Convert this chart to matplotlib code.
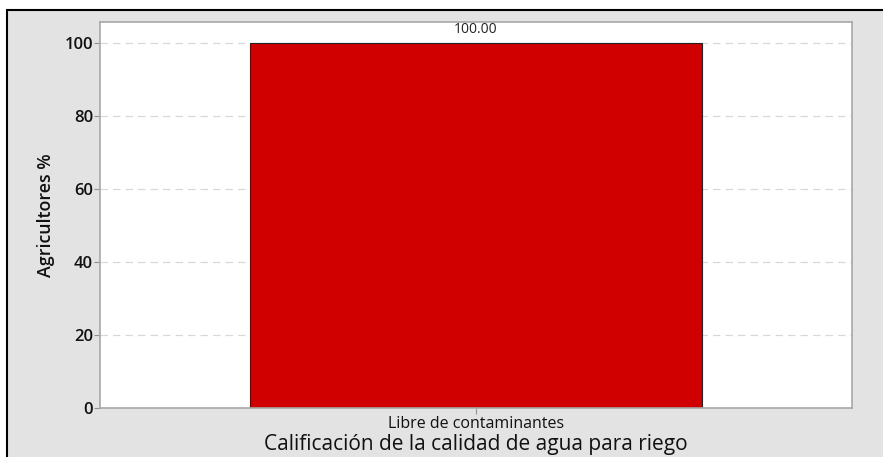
import matplotlib
matplotlib.use("Agg")
import matplotlib.pyplot as plt
from matplotlib.patches import Rectangle

categories = ["Libre de contaminantes"]
values = [100.0]
yticks = [0, 20, 40, 60, 80, 100]

plt.rcParams['font.family'] = ['Open Sans', 'DejaVu Sans']

W, H = 883, 457
fig = plt.figure(figsize=(W/100, H/100), dpi=100)
fig.patch.set_facecolor('white')
# gray panel with black border (left/top)
top = 1 - 10.5/H
fig.patches.append(Rectangle((7.5/W, -0.2), 1.2, top + 0.2, transform=fig.transFigure,
                             facecolor='#e3e3e3', edgecolor='black', linewidth=1.5, zorder=-10))

ax = fig.add_axes([100/W, 1 - 408/H, 752/W, 386/H])
ax.set_zorder(5)
ax.set_facecolor('white')
x = list(range(len(categories)))
bars = ax.bar(x, values, width=0.6, color='#d00000', edgecolor='#222222', linewidth=0.8, zorder=2)
for xi, v in zip(x, values):
    ax.text(xi, v + 1.6, f"{v:.2f}", ha='center', va='bottom', fontsize=10, color='#222222')

ax.set_xlim(-0.5, 0.5)
ax.set_ylim(0, 105.8)
ax.set_yticks(yticks)
ax.set_yticklabels([str(t) for t in yticks], fontsize=12, fontweight='semibold')
ax.set_xticks(x)
ax.set_xticklabels(categories, fontsize=11.5)
ax.yaxis.grid(True, linestyle=(0, (6, 4)), color='#d8d8d8', linewidth=0.9, zorder=1)
ax.set_axisbelow(True)
for s in ax.spines.values():
    s.set_color('#a8a8a8')
    s.set_linewidth(1.2)
ax.tick_params(axis='both', colors='#909090', length=4, width=0.8, labelcolor='#111111')
ax.tick_params(axis='y', pad=1)
ax.tick_params(axis='x', pad=2)
ax.set_ylabel("Agricultores %", fontsize=12.8, fontweight='semibold', color='#111111', labelpad=7)
ax.set_xlabel("Calificación de la calidad de agua para riego", fontsize=15, color='#111111', labelpad=1)

fig.savefig("out.png", dpi=100)
